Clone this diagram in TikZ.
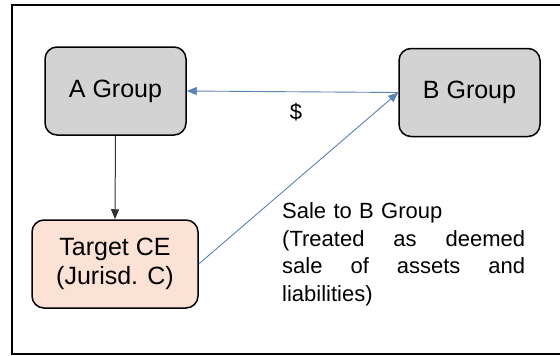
\documentclass[tikz,border=0pt]{standalone}
\usepackage{fontspec}
\setmainfont{Liberation Sans}
\usetikzlibrary{arrows.meta}
\definecolor{boxgray}{RGB}{211,211,211}
\definecolor{boxpink}{RGB}{251,226,213}
\definecolor{linkblue}{RGB}{91,130,185}
\begin{document}
\begin{tikzpicture}[x=1pt,y=-1pt,
  groupbox/.style={draw=black, line width=1.5pt, rounded corners=12pt,
    minimum width=141pt, minimum height=88pt, inner sep=0pt, align=center,
    font=\fontsize{25}{28.5}\selectfont},
  flow/.style={draw=linkblue, line width=0.9pt,
    -{Triangle[length=10pt,width=8pt]}},
  owns/.style={draw=black!80, line width=1pt,
    -{Triangle[length=10pt,width=8pt]}},
  note/.style={inner sep=0pt, font=\fontsize{22}{27.5}\selectfont}]
  \useasboundingbox (0,0) rectangle (560,356);
  \fill[white] (0,0) rectangle (560,356);
  % outer frame (runs past the right edge)
  \begin{scope}
    \clip (0,0) rectangle (560,356);
    \draw[line width=2pt] (12,5) rectangle (570,354);
  \end{scope}
  % entities
  \node[groupbox, fill=boxgray] (A) at (115.5,91) {A Group};
  \node[groupbox, fill=boxgray] (B) at (469.5,92.5) {B Group};
  \node[groupbox, fill=boxpink, minimum width=166pt] (T) at (115,264)
    {Target CE\\(Jurisd. C)};
  % connectors
  \draw[owns] (A.south) -- (T.north);
  \draw[flow] (B.west) -- (A.east);
  \draw[flow] (T.east) -- (B.west);
  % labels
  \node[note] (pay) at (296,112) {\$};
  \node[note, anchor=north west, text width=243pt, align=left] (sale)
    at (282,202.5)
    {Sale to B Group\\
     (Treated\hfill as\hfill deemed\\
     sale\hfill of\hfill assets\hfill and\\
     liabilities)};
\end{tikzpicture}
\end{document}
